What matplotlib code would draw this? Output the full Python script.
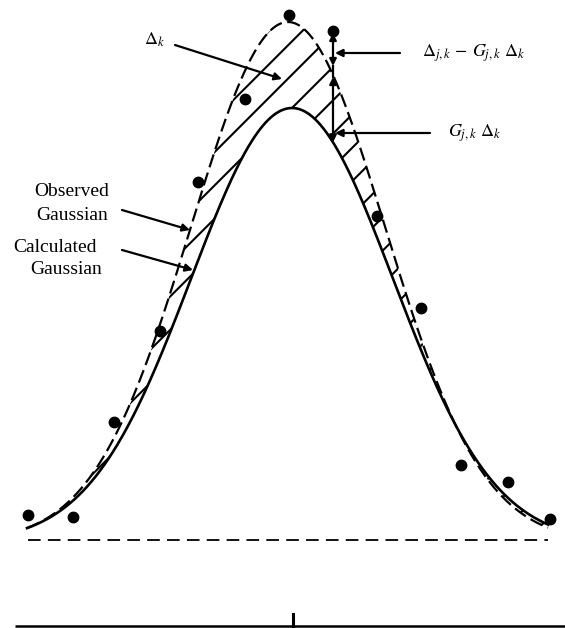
import numpy as np
import matplotlib
matplotlib.use("Agg")
import matplotlib.pyplot as plt

plt.rcParams["font.family"] = ["Liberation Serif", "DejaVu Serif"]
plt.rcParams["mathtext.fontset"] = "stix"
plt.rcParams["hatch.linewidth"] = 1.5

# Gaussian profiles (drawing units: x to the right, y downward)
baseline_y = 542
calc_center, calc_peak_y, calc_sigma = 292, 108, 101
obs_center, obs_peak_y, obs_sigma = 288, 22, 97
curve_x_range = (27, 548)

# Observed intensities (points)
obs_x = [28, 73, 114, 160, 198, 245, 289, 333, 377, 421, 461, 508, 550]
obs_y = [515, 517, 422, 331, 182, 99, 15, 31, 216, 308, 465, 482, 519]

# Background level and scan axis
background_y = 540
background_x = (28, 548)
axis_y = 626
axis_x = (15, 565)
axis_tick_x = 293

# Difference marker at one step
step_x = 333


def gaussian(x, center, peak_y, sigma):
    height = baseline_y - peak_y
    return baseline_y - height * np.exp(-(x - center) ** 2 / (2 * sigma ** 2))


fig = plt.figure(figsize=(5.65, 6.28), dpi=100)
ax = fig.add_axes([0, 0, 1, 1])
ax.set_xlim(0, 565)
ax.set_ylim(628, 0)
ax.axis("off")

x = np.linspace(curve_x_range[0], curve_x_range[1], 600)
calc = gaussian(x, calc_center, calc_peak_y, calc_sigma)
obs = gaussian(x, obs_center, obs_peak_y, obs_sigma)

# hatched difference between observed and calculated profiles
ax.fill_between(x, calc, obs, facecolor="none", edgecolor="black",
                hatch="/", linewidth=0)
ax.plot(x, obs, color="black", lw=1.6, ls=(0, (6, 2.5)))
ax.plot(x, calc, color="black", lw=1.9)

ax.plot(obs_x, obs_y, "o", color="black", ms=7.5)

# background and axis
ax.plot(background_x, [background_y, background_y], color="black", lw=1.3,
        ls=(0, (7, 4)))
ax.plot(axis_x, [axis_y, axis_y], color="black", lw=1.8, solid_capstyle="butt")
ax.plot([axis_tick_x, axis_tick_x], [axis_y, axis_y - 12], color="black", lw=2.2)

# vertical difference bar at step_x
calc_at_step = gaussian(step_x, calc_center, calc_peak_y, calc_sigma)
arrow_kw = dict(arrowstyle="<|-|>", color="black", lw=1.6,
                mutation_scale=10, shrinkA=0, shrinkB=0)
ax.annotate("", xy=(step_x, 33), xytext=(step_x, 66), arrowprops=arrow_kw)
ax.annotate("", xy=(step_x, 77), xytext=(step_x, calc_at_step),
            arrowprops=arrow_kw)
ax.plot([step_x, step_x], [66, 77], color="black", lw=1.6)

point_kw = dict(arrowstyle="-|>", color="black", lw=1.6, mutation_scale=11,
                shrinkA=0, shrinkB=0)
ax.annotate("", xy=(step_x + 2, 53), xytext=(400, 53), arrowprops=point_kw)
ax.annotate("", xy=(step_x + 2, 133), xytext=(430, 133), arrowprops=point_kw)
ax.text(422, 53, r"$\Delta_{j,k}\,-\,G_{j,k}\ \Delta_k$", fontsize=13,
        ha="left", va="center")
ax.text(448, 133, r"$G_{j,k}\ \Delta_k$", fontsize=13, ha="left", va="center")

# Delta_k label
ax.annotate("", xy=(282, 79), xytext=(175, 45), arrowprops=point_kw)
ax.text(165, 40, r"$\Delta_k$", fontsize=13, ha="right", va="center")

# curve labels
ax.text(72, 191, "Observed", fontsize=14, ha="center", va="center")
ax.text(72, 215, "Gaussian", fontsize=14, ha="center", va="center")
ax.text(55, 247, "Calculated", fontsize=14, ha="center", va="center")
ax.text(66, 269, "Gaussian", fontsize=14, ha="center", va="center")
ax.annotate("", xy=(190, 230), xytext=(122, 210), arrowprops=point_kw)
ax.annotate("", xy=(193, 270), xytext=(122, 250), arrowprops=point_kw)

fig.savefig("out.png", dpi=100)
